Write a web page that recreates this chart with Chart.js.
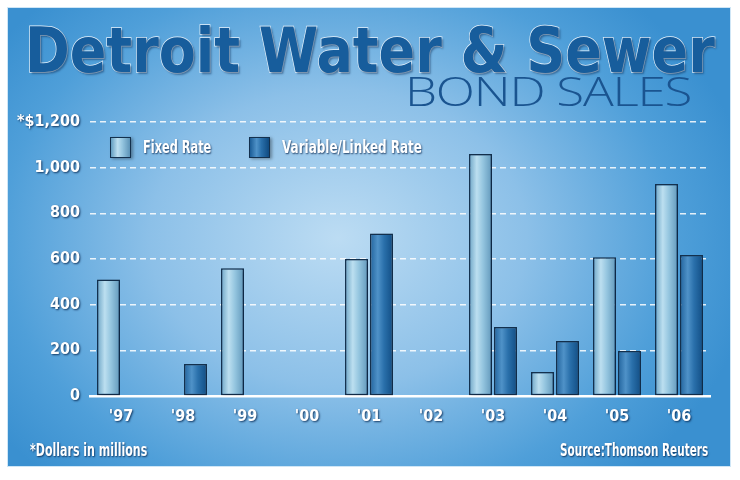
<!DOCTYPE html>
<html lang="en">
<head>
    <meta charset="UTF-8">
    <title>Detroit Water & Sewer Bond Sales</title>
    <script src="https://cdn.jsdelivr.net/npm/chart.js"></script>
    <style>
        body {
            margin: 0;
            background: #fff;
            font-family: 'DejaVu Sans Condensed', 'Roboto', sans-serif;
        }
        .wrap {
            position: relative;
            width: 740px;
            height: 480px;
            overflow: hidden;
        }
        .panel {
            position: absolute;
            left: 8px; top: 8px;
            width: 722px; height: 458px;
            background: radial-gradient(ellipse 420px 330px at 330px 230px, #bcdcf3 0%, #8cc0e8 45%, #4f9fd9 80%, #3a90d0 100%);
            box-shadow: 0 0 0 1px #cfe6f6;
        }
        canvas { position: absolute; left: 0; top: 0; }
        .title {
            position: absolute;
            left: 25px; top: 14px;
            font-family: 'DejaVu Sans', sans-serif;
            font-weight: bold;
            font-size: 63px;
            color: #175d9c;
            white-space: nowrap;
            -webkit-text-stroke: 1.5px #e6f2fb;
            paint-order: stroke fill;
            text-shadow: 2px 2px 2px rgba(10, 40, 80, 0.45);
            transform-origin: 0 0;
        }
        .sub {
            position: absolute;
            left: 405px; top: 62px;
            font-family: 'Open Sans', sans-serif;
            font-weight: 300;
            font-size: 41px;
            color: #1a5490;
            white-space: nowrap;
            transform-origin: 0 0;
            letter-spacing: -1px;
        }
        .txt {
            position: absolute;
            color: #fff;
            font-weight: bold;
            font-size: 18px;
            line-height: 22px;
            white-space: nowrap;
            text-shadow: 1px 1px 2px rgba(0, 30, 70, 0.8);
            transform-origin: 0 0;
        }
        .sw {
            position: absolute;
            width: 19px; height: 19px;
            border: 1.5px solid #13304d;
            box-shadow: 2px 1px 3px rgba(0, 0, 0, 0.35);
        }
    </style>
</head>
<body>
<div class="wrap">
    <div class="panel"></div>
    <canvas id="c" width="740" height="480"></canvas>
    <div class="title" id="title">Detroit Water &amp; Sewer</div>
    <div class="sub" id="sub">BOND SALES</div>

    <div class="sw" style="left:110px; top:137px; background:linear-gradient(90deg,#629dc0,#bcdff0 35%,#94c5df 60%,#5c93b7)"></div>
    <div class="txt" id="lg1" style="left:143px; top:136px">Fixed Rate</div>
    <div class="sw" style="left:249px; top:137px; background:linear-gradient(90deg,#1b5d97,#4f92c8 35%,#2a70ab 60%,#0f4a80)"></div>
    <div class="txt" id="lg2" style="left:282px; top:136px">Variable/Linked Rate</div>

    <div class="txt" id="ft1" style="left:30px; top:439px">*Dollars in millions</div>
    <div class="txt" id="ft2" style="left:560px; top:439px">Source:Thomson Reuters</div>
</div>

<script>
    // data, $ millions
    const years = ["'97", "'98", "'99", "'00", "'01", "'02", "'03", "'04", "'05", "'06"];
    const fixedRate = [510, null, 560, null, 600, null, 1060, 105, 608, 928];
    const variableRate = [null, 140, null, null, 712, null, 302, 241, 197, 617];
    const yTicks = [0, 200, 400, 600, 800, 1000, 1200];

    const CAT_PCT = 0.806;
    const BAR_PCT = 0.92;

    // squeeze texts into the width they take in the original
    function fit(id, w) {
        const el = document.getElementById(id);
        el.style.transform = 'scaleX(' + (w / el.offsetWidth) + ')';
    }
    fit('title', 690);
    fit('sub', 286);
    fit('lg1', 68);
    fit('lg2', 140);
    fit('ft1', 117);
    fit('ft2', 148);

    function barFill(c, side, stops) {
        const chart = c.chart;
        const x = chart.scales.x;
        if (!chart.chartArea || !x) return stops[1];
        const cw = (x.right - x.left) / years.length;
        const bw = cw * CAT_PCT / 2;
        const cx = x.getPixelForValue(c.dataIndex) + side * bw / 2;
        const g = chart.ctx.createLinearGradient(cx - bw / 2, 0, cx + bw / 2, 0);
        g.addColorStop(0, stops[0]);
        g.addColorStop(0.35, stops[1]);
        g.addColorStop(0.6, stops[2]);
        g.addColorStop(1, stops[3]);
        return g;
    }

    const shadowPlugin = {
        id: 'shadows',
        beforeDatasetsDraw(chart) {
            const ctx = chart.ctx;
            ctx.save();
            ctx.shadowColor = 'rgba(0, 20, 50, 0.4)';
            ctx.shadowBlur = 3;
            ctx.shadowOffsetX = 2;
            ctx.shadowOffsetY = 1;
        },
        afterDatasetsDraw(chart) {
            chart.ctx.restore();
        },
        beforeDraw(chart) {
            // shadowed tick labels
            Object.values(chart.scales).forEach(s => {
                if (s._wrapped) return;
                const orig = s.drawLabels.bind(s);
                s.drawLabels = function (area) {
                    const ctx = chart.ctx;
                    ctx.save();
                    ctx.shadowColor = 'rgba(0, 30, 70, 0.8)';
                    ctx.shadowBlur = 2;
                    ctx.shadowOffsetX = 1;
                    ctx.shadowOffsetY = 1;
                    orig(area);
                    ctx.restore();
                };
                s._wrapped = true;
            });
        }
    };

    const tickFont = { family: "'DejaVu Sans Condensed', 'Roboto', sans-serif", size: 16, weight: 'bold' };

    new Chart(document.getElementById('c'), {
        type: 'bar',
        data: {
            labels: years,
            datasets: [
                {
                    label: 'Fixed Rate',
                    data: fixedRate,
                    backgroundColor: c => barFill(c, -1, ['#629dc0', '#bcdff0', '#94c5df', '#5c93b7']),
                    borderColor: '#13304d',
                    borderWidth: 1.5,
                    borderSkipped: false
                },
                {
                    label: 'Variable/Linked Rate',
                    data: variableRate,
                    backgroundColor: c => barFill(c, 1, ['#1b5d97', '#4f92c8', '#2a70ab', '#0f4a80']),
                    borderColor: '#13304d',
                    borderWidth: 1.5,
                    borderSkipped: false
                }
            ]
        },
        options: {
            responsive: false,
            animation: false,
            categoryPercentage: CAT_PCT,
            barPercentage: BAR_PCT,
            layout: { padding: { left: 0, right: 30, top: 122, bottom: 54 } },
            plugins: {
                legend: { display: false },
                tooltip: { enabled: false }
            },
            scales: {
                x: {
                    grid: { display: false },
                    border: { display: true, color: '#ffffff', width: 2.5 },
                    ticks: { color: '#ffffff', font: tickFont, padding: 3 },
                    afterFit: s => { s.height = 30; }
                },
                y: {
                    min: 0,
                    max: 1200,
                    afterBuildTicks: s => { s.ticks = yTicks.map(v => ({ value: v })); },
                    grid: {
                        drawTicks: false,
                        color: c => c.tick && c.tick.value === 0 ? 'rgba(0,0,0,0)' : 'rgba(255,255,255,0.85)',
                        lineWidth: 1.5
                    },
                    border: { display: false, dash: [6, 4] },
                    ticks: {
                        color: '#ffffff',
                        font: tickFont,
                        padding: 10,
                        callback: v => v === 1200 ? '*$1,200' : v.toLocaleString('en-US')
                    },
                    afterFit: s => { s.width = 90; }
                }
            }
        },
        plugins: [shadowPlugin]
    });
</script>
</body>
</html>
